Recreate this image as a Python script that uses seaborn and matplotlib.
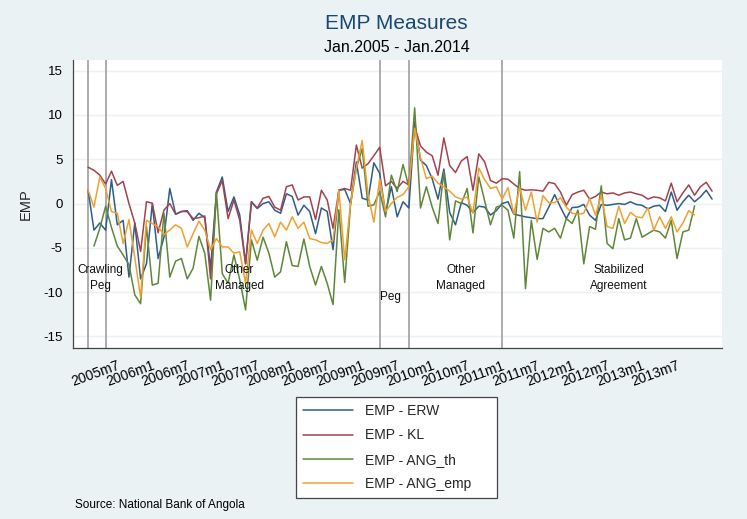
import numpy as np
import pandas as pd
import matplotlib
matplotlib.use("Agg")
import matplotlib.pyplot as plt
import seaborn as sns

# months counted from 2005m1 (= 0); data run 2005m2 .. 2014m1
months = list(range(1, 109))

erw = [1.5, -3.0, -2.2, -3.0, 2.7, -2.4, -1.9, -8.3, -2.2, -8.5,
       -6.8, 0.0, -6.2, -3.8, 1.7, -1.2, -0.9, -0.8, -1.9, -1.1,
       -1.6, -7.3, 1.3, 3.0, -0.9, 0.75, -1.3, -6.8, 0.2, -0.56,
       0.0, 0.2, -0.75, -1.1, 1.1, 0.8, -1.3, -0.2, -0.9, -3.4,
       -0.5, -0.9, -5.2, 1.5, 1.6, 0.0, 4.7, 0.6, 0.4, 4.6,
       3.4, -1.1, 1.9, -1.5, 0.2, -0.5, 9.2, 4.9, 4.3, 2.8,
       0.5, 3.9, -1.0, -2.4, 0.1, -0.2, -1.0, -0.3, -0.4, -1.3,
       -0.8, 0.0, 0.2, -1.2, -1.35, -1.5, -1.6, -1.7, -1.7, -0.4,
       1.0, -0.4, -1.7, -0.45, -0.4, -0.1, -1.3, -1.9, -0.1, -0.2,
       -0.1, 0.0, -0.1, 0.2, -0.1, -0.2, -0.6, -0.3, -0.2, -0.9,
       1.3, -0.75, 0.2, 0.94, 0.2, 0.75, 1.5, 0.5]

kl = [4.1, 3.75, 3.2, 2.2, 3.65, 2.05, 2.5, 0.0, -2.2, -5.4,
      0.2, 0.05, -3.3, -0.75, 0.0, -1.2, -0.9, -0.9, -1.7, -1.6,
      -1.4, -8.5, 1.1, 2.6, -1.7, 0.4, -1.9, -6.8, 0.2, -0.5,
      0.6, 0.8, -0.4, -0.75, 1.9, 2.1, 0.4, 0.75, 0.75, -1.8,
      1.5, 0.4, -2.8, 1.5, 1.7, 1.5, 6.6, 4.0, 4.5, 5.4,
      6.35, 2.0, 2.5, 1.7, 2.5, 2.1, 8.7, 6.5, 5.8, 5.4,
      3.2, 7.4, 4.3, 3.5, 4.8, 5.3, 1.5, 5.6, 4.7, 2.6,
      2.3, 2.8, 2.75, 2.2, 1.7, 1.5, 1.55, 1.5, 1.4, 2.4,
      2.25, 1.3, -0.2, 1.0, 1.3, 1.5, 0.5, 0.8, 1.3, 1.1,
      1.2, 0.94, 1.2, 1.3, 1.1, 0.94, 0.5, 0.75, 0.65, 0.3,
      2.3, 0.2, 1.2, 2.1, 0.94, 1.9, 2.4, 1.4]

ang_th = [np.nan, -4.8, -2.8, -0.3, -2.7, -4.8, -5.8, -6.9, -10.3, -11.3,
          -2.6, -9.2, -9.0, -1.1, -8.3, -6.5, -6.2, -8.5, -7.3, -3.7,
          -5.6, -10.9, 1.3, -7.9, -9.0, -5.8, -8.6, -12.0, -4.1, -6.4,
          -3.8, -5.6, -8.3, -7.7, -4.3, -7.0, -7.1, -4.0, -7.1, -9.2,
          -7.1, -9.0, -11.4, -0.7, -8.9, -0.15, 4.0, 6.2, -0.3, -0.15,
          1.35, -1.5, 3.2, 1.35, 4.4, 1.9, 10.8, -0.5, 1.9, -0.4,
          -2.25, 3.6, -4.1, 0.3, 0.0, 1.7, -3.3, 3.0, 0.3, -2.4,
          -0.4, -0.2, -0.75, -3.9, 3.6, -9.6, -1.9, -6.3, -2.8, -3.2,
          -2.8, -3.9, -1.7, -2.25, -0.75, -6.8, -2.6, -2.9, 2.0, -4.5,
          -5.1, -1.7, -4.1, -3.9, -1.7, -3.8, -3.4, -3.0, -3.2, -3.9,
          -1.9, -6.2, -3.2, -3.0, -0.26, np.nan, np.nan, np.nan]

ang_emp = [1.5, -0.4, 3.0, 1.7, -0.9, -1.1, -4.5, -1.8, -6.1, -10.6,
           -1.9, -2.25, -2.6, -3.5, -3.0, -2.4, -2.8, -4.9, -3.4, -2.0,
           -3.0, -5.2, -3.95, -4.9, -4.9, -5.6, -5.45, -9.0, -3.0, -4.5,
           -3.0, -2.25, -3.76, -2.1, -3.0, -1.5, -2.8, -2.1, -3.95, -4.1,
           -4.4, -4.5, -4.1, 1.5, -6.35, 0.0, 4.0, 7.1, 1.0, -2.1,
           2.8, -0.9, 0.0, 0.7, 1.0, 1.9, 8.5, 5.2, 2.8, 3.1,
           2.3, 1.9, 1.4, 0.75, 0.5, 0.75, -1.1, 4.0, 2.7, 1.7,
           1.9, 0.5, 1.8, -1.2, 1.8, -0.75, 1.3, -2.1, 0.9, 0.1,
           0.1, 0.65, -0.4, -1.1, -1.2, -1.1, 0.56, -1.3, 0.9, -2.6,
           -2.8, -0.3, -2.25, -1.0, -1.5, -1.6, -0.5, -3.0, -1.5, -2.8,
           -1.5, -3.2, -2.2, -0.8, -1.3, np.nan, np.nan, np.nan]

series_names = ["EMP - ERW", "EMP - KL", "EMP - ANG_th", "EMP - ANG_emp"]
colors = ["#2f5d8a", "#a3424f", "#5f873a", "#f0a030"]

tick_months = list(range(6, 103, 6))
tick_labels = ["2005m7", "2006m1", "2006m7", "2007m1", "2007m7", "2008m1",
               "2008m7", "2009m1", "2009m7", "2010m1", "2010m7", "2011m1",
               "2011m7", "2012m1", "2012m7", "2013m1", "2013m7"]

regime_breaks = [1, 4, 51, 56, 72]
regime_names = ["Crawling\nPeg", "Other\nManaged", "Peg", "Other\nManaged",
                "Stabilized\nAgreement"]
regime_x = [3.05, 26.9, 52.9, 64.9, 92.0]
regime_y = [-8.4, -8.4, -10.5, -8.4, -8.4]

df = pd.DataFrame({"month": months, series_names[0]: erw, series_names[1]: kl,
                   series_names[2]: ang_th, series_names[3]: ang_emp})
long_df = df.melt(id_vars="month", var_name="series", value_name="EMP").dropna()

sns.set_style("white")
plt.rcParams["font.family"] = ["Liberation Sans", "DejaVu Sans"]
plt.rcParams["axes.unicode_minus"] = False

bg = "#eaf2f3"
fig = plt.figure(figsize=(7.47, 5.19), dpi=100, facecolor=bg)
ax = fig.add_axes([0.0977, 0.3295, 0.8688, 0.5549])
ax.set_facecolor("white")

for y in range(-15, 16, 5):
    ax.axhline(y, color=bg, lw=1.0, zorder=0)
for b in regime_breaks:
    ax.axvline(b, color="#a6a6a6", lw=1.3, zorder=1)

sns.lineplot(data=long_df, x="month", y="EMP", hue="series",
             hue_order=series_names, palette=colors, lw=1.1, ax=ax, zorder=2)

for name, x, y in zip(regime_names, regime_x, regime_y):
    ax.text(x, y, name, ha="center", va="center", fontsize=8.5,
            linespacing=1.45, color="#111111")

ax.set_xlim(-1.6, 109.7)
ax.set_ylim(-16.3, 16.2)
ax.set_yticks(range(-15, 16, 5))
ax.set_xticks(tick_months)
ax.set_xticklabels(tick_labels, rotation=20, ha="right", rotation_mode="anchor")
ax.tick_params(axis="x", labelsize=10)
ax.tick_params(axis="y", labelsize=9.5)
ax.tick_params(axis="both", length=4, direction="out", color="#555555",
               labelcolor="black")
ax.set_xlabel("")
ax.set_ylabel("EMP", fontsize=10.5)
ax.yaxis.set_label_coords(-0.062, 0.5)

for side in ["top", "right"]:
    ax.spines[side].set_visible(False)
for side in ["left", "bottom"]:
    ax.spines[side].set_color("#444444")
    ax.spines[side].set_linewidth(0.9)

handles, labels = ax.get_legend_handles_labels()
ax.get_legend().remove()
leg = fig.legend(handles, labels, loc="upper left",
                 bbox_to_anchor=(296 / 747, 1 - 397 / 519, 201 / 747, 0),
                 mode="expand", borderaxespad=0, fontsize=10,
                 frameon=True, fancybox=False, framealpha=1,
                 edgecolor="#444444", borderpad=0.5, labelspacing=0.75,
                 handlelength=3.6, handletextpad=0.9)
leg.get_frame().set_linewidth(0.9)
for line in leg.get_lines():
    line.set_linewidth(1.1)

fig.text(0.531, 0.954, "EMP Measures", ha="center", va="center",
         fontsize=15, color="#1a476f")
fig.text(0.531, 0.909, "Jan.2005 - Jan.2014", ha="center", va="center",
         fontsize=11.5, color="black")
fig.text(0.1, 0.027, "Source: National Bank of Angola", ha="left",
         va="center", fontsize=8.5, color="black")

fig.savefig("out.png", dpi=100, facecolor=bg)
